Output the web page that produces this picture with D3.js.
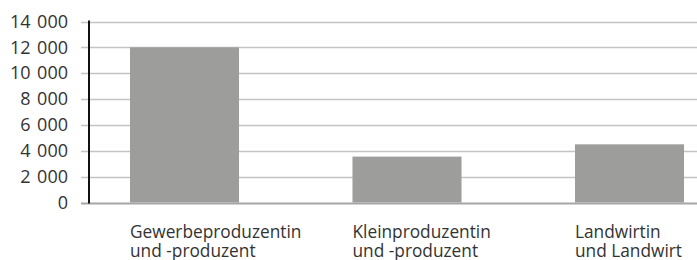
<!DOCTYPE html>
<html>
<head>
<meta charset="utf-8">
<script src="https://cdn.jsdelivr.net/npm/d3@7"></script>
<style>
  body { margin: 0; background: #fff; }
  text { font-family: "Open Sans", sans-serif; fill: #333; }
</style>
</head>
<body>
<div id="chart"></div>
<script>
// Chart data
var categories = ["Gewerbeproduzentin und -produzent", "Kleinproduzentin und -produzent", "Landwirtin und Landwirt"];
var labelLines = [["Gewerbeproduzentin", "und -produzent"], ["Kleinproduzentin", "und -produzent"], ["Landwirtin", "und Landwirt"]];
var values = [12000, 3550, 4500];
var yTicks = [0, 2000, 4000, 6000, 8000, 10000, 12000, 14000];

var svgWidth = 697;
var svgHeight = 260;

var svg = d3.select("#chart")
    .append("svg")
    .attr("width", svgWidth)
    .attr("height", svgHeight);

// Scales
var yScale = d3.scaleLinear()
    .domain([0, 14000])
    .range([202.5, 21.5]);

var xScale = d3.scaleBand()
    .domain(categories)
    .range([73.25, 740.75])
    .paddingInner(0.51)
    .paddingOuter(0.255);

var axisX = 89;

// Gridlines
svg.append("g")
    .selectAll("line")
    .data(yTicks)
    .enter()
    .append("line")
    .attr("x1", 81)
    .attr("x2", svgWidth)
    .attr("y1", d => Math.round(yScale(d)) + 0.5)
    .attr("y2", d => Math.round(yScale(d)) + 0.5)
    .attr("stroke", d => d === 0 ? "#a6a6a6" : "#c4c4c4")
    .attr("stroke-width", d => d === 0 ? 2 : 1.5);

// Bars
svg.append("g")
    .selectAll("rect")
    .data(values)
    .enter()
    .append("rect")
    .attr("x", (d, i) => xScale(categories[i]))
    .attr("width", xScale.bandwidth())
    .attr("y", d => yScale(d))
    .attr("height", d => yScale(0) - yScale(d))
    .attr("fill", "#9d9d9c");

// Y axis (left line + labels)
var leftAxis = d3.axisLeft(yScale)
    .tickValues(yTicks)
    .tickSize(0)
    .tickPadding(0)
    .tickFormat(d => d3.format(",")(d).replace(/,/g, " \u200a"));

var yAxis = svg.append("g")
    .attr("transform", `translate(68, 0)`)
    .call(leftAxis);
yAxis.select(".domain").remove();
yAxis.selectAll("text")
    .style("font-family", "'Open Sans', sans-serif")
    .style("font-size", "18px")
    .attr("dy", "0.32em")
    .attr("fill", "#333");

svg.append("line")
    .attr("x1", axisX)
    .attr("x2", axisX)
    .attr("y1", yScale(14000) - 1)
    .attr("y2", yScale(0) + 1)
    .attr("stroke", "#111")
    .attr("stroke-width", 2);

// Category labels
var labelGroup = svg.append("g");
labelLines.forEach(function(lines, i) {
    var t = labelGroup.append("text")
        .attr("x", xScale(categories[i]))
        .attr("y", 238)
        .style("font-size", "17.3px");
    lines.forEach(function(line, j) {
        t.append("tspan")
            .attr("x", xScale(categories[i]))
            .attr("dy", j === 0 ? 0 : 19)
            .text(line);
    });
});
</script>
</body>
</html>
